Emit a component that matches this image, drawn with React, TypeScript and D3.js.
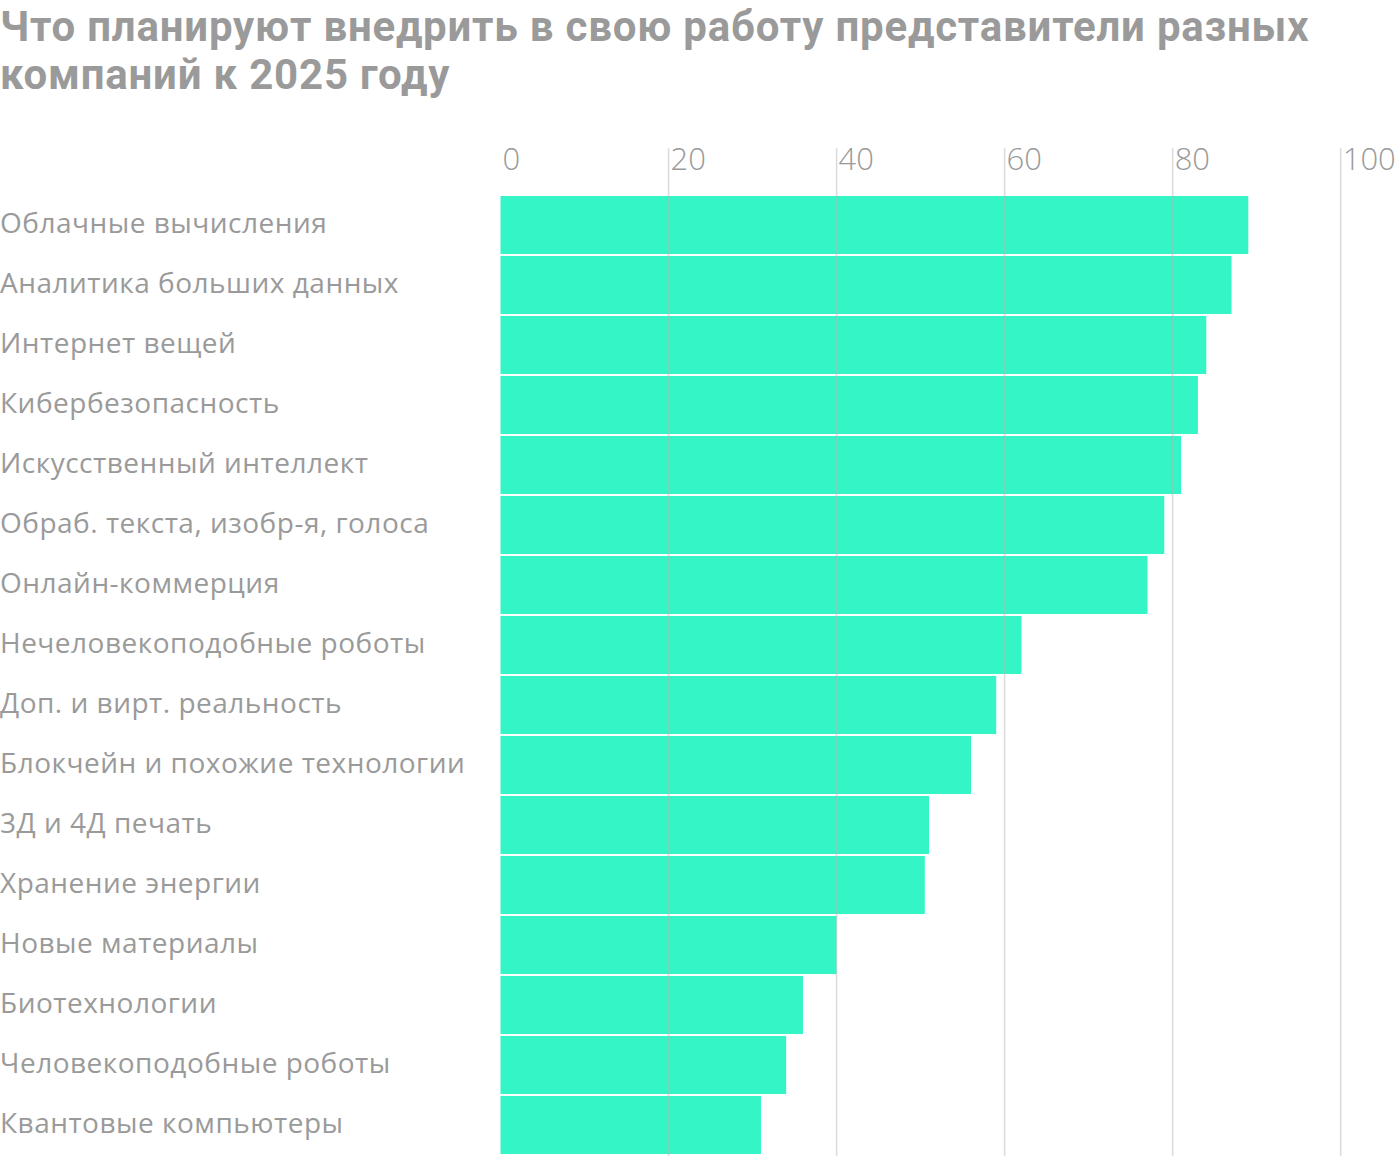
import React from "react";
import * as d3 from "d3";

const categories = [
  "Облачные вычисления",
  "Аналитика больших данных",
  "Интернет вещей",
  "Кибербезопасность",
  "Искусственный интеллект",
  "Обраб. текста, изобр-я, голоса",
  "Онлайн-коммерция",
  "Нечеловекоподобные роботы",
  "Доп. и вирт. реальность",
  "Блокчейн и похожие технологии",
  "3Д и 4Д печать",
  "Хранение энергии",
  "Новые материалы",
  "Биотехнологии",
  "Человекоподобные роботы",
  "Квантовые компьютеры",
];
const values = [89, 87, 84, 83, 81, 79, 77, 62, 59, 56, 51, 50.5, 40, 36, 34, 31];
const ticks = [0, 20, 40, 60, 80, 100];
const titleLines = [
  "Что планируют внедрить в свою работу представители разных",
  "компаний к 2025 году",
];

const W = 1400;
const H = 1156;

export default function App() {
  const x = d3.scaleLinear().domain([0, 100]).range([500.5, 1340.7]);
  const n = categories.length;
  const pad = 2 / 60;
  const y = d3
    .scaleBand<string>()
    .domain(categories)
    .range([196, 196 + 60 * (n - pad)])
    .paddingInner(pad)
    .paddingOuter(0);
  const grey = "#9a9a9a";
  return (
    <svg
      width={W}
      height={H}
      style={{ position: "absolute", left: 0, top: 0, background: "#fff" }}
      fontFamily="Roboto, sans-serif"
    >
      {titleLines.map((t, i) => (
        <text
          key={i}
          x={0}
          y={41 + i * 48}
          fontSize={42}
          fontWeight={700}
          fill={grey}
          letterSpacing={0.8}
        >
          {t}
        </text>
      ))}
      {ticks.map((t) => (
        <text
          key={t}
          x={x(t) + 2}
          y={170}
          fontSize={31}
          fontWeight={300}
          fill={grey}
          fontFamily="Open Sans, sans-serif"
        >
          {t}
        </text>
      ))}
      {categories.map((c, i) => (
        <g key={c}>
          <rect
            x={x(0)}
            y={y(c)!}
            width={x(values[i]) - x(0)}
            height={y.bandwidth()}
            fill="#33f5c5"
          />
          <text
            x={0}
            y={y(c)! + y.bandwidth() / 2 + 8}
            fontSize={28}
            fontWeight={400}
            fill={grey}
            letterSpacing={0.5}
            fontFamily="Open Sans, sans-serif"
          >
            {c}
          </text>
        </g>
      ))}
      {ticks
        .filter((t) => t > 0)
        .map((t) => (
          <line
            key={t}
            x1={x(t)}
            x2={x(t)}
            y1={148}
            y2={H}
            stroke="#b8b8b8"
            strokeOpacity={0.5}
            strokeWidth={1.5}
          />
        ))}
    </svg>
  );
}
